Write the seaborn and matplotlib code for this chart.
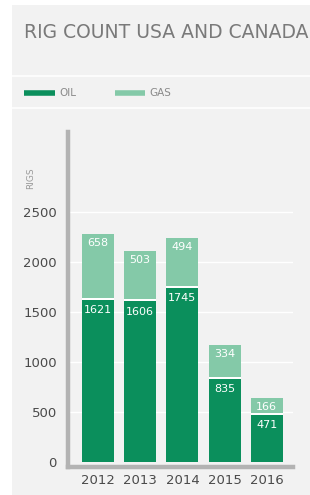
import numpy as np
import pandas as pd
import seaborn as sns
import matplotlib.pyplot as plt
from matplotlib.patches import Rectangle
from matplotlib.lines import Line2D

# data
years = ['2012', '2013', '2014', '2015', '2016']
oil = [1621, 1606, 1745, 835, 471]
gas = [658, 503, 494, 334, 166]
yticks = [0, 500, 1000, 1500, 2000, 2500]

oil_color = '#0b8f5c'
gas_color = '#84c9a8'
panel = '#f2f2f2'

df = pd.DataFrame({'Year': years, 'Oil': oil, 'Gas': gas})
df['Total'] = df['Oil'] + df['Gas']
df['Gap'] = df['Oil'] + 20

sns.set_theme(style='white')
plt.rcParams['font.family'] = ['DejaVu Sans']

fig = plt.figure(figsize=(3.1, 4.95), dpi=100)
fig.patch.set_facecolor('white')

# light gray panel behind everything
W, H = 310, 495
fig.add_artist(Rectangle((12 / W, 0), 1, 1 - 5 / H, transform=fig.transFigure,
                         facecolor=panel, edgecolor='none', zorder=0))
for yy in (76, 108):
    fig.add_artist(Line2D([12 / W, 1], [1 - yy / H, 1 - yy / H], transform=fig.transFigure,
                          color='white', lw=1.2, zorder=1))

# title (runs off the right edge like the original)
fig.text(24 / W, 1 - 33 / H, 'RIG COUNT USA AND CANADA', fontsize=13.5, color='#7a7a7a',
         va='center', ha='left', zorder=2)

# legend
for x0, x1, col, lab in [(24, 55, oil_color, 'OIL'), (115, 145, gas_color, 'GAS')]:
    fig.add_artist(Line2D([x0 / W, x1 / W], [1 - 93 / H, 1 - 93 / H], transform=fig.transFigure,
                          color=col, lw=4, solid_capstyle='butt', zorder=2))
    fig.text((x1 + 4) / W, 1 - 93 / H, lab, fontsize=7.5, color='#8a8a8a', va='center', ha='left')

ax = fig.add_axes([68 / W, 1 - 467 / H, (293 - 68) / W, (467 - 132) / H])
ax.set_facecolor(panel)

sns.barplot(data=df, x='Year', y='Total', color=gas_color, width=0.76, saturation=1,
            linewidth=0, ax=ax, zorder=2)
sns.barplot(data=df, x='Year', y='Gap', color='white', width=0.76, saturation=1,
            linewidth=0, ax=ax, zorder=2)
sns.barplot(data=df, x='Year', y='Oil', color=oil_color, width=0.76, saturation=1,
            linewidth=0, ax=ax, zorder=2)

# value labels inside each segment
for i, (o, t) in enumerate(zip(df['Oil'], df['Total'])):
    ax.annotate(str(o), (i, o), xytext=(0, -4), textcoords='offset points',
                ha='center', va='top', color='white', fontsize=8, zorder=3)
    ax.annotate(str(t - o), (i, t), xytext=(0, -3), textcoords='offset points',
                ha='center', va='top', color='white', fontsize=8, zorder=3)

ax.set_ylim(-50, 3300)
ax.set_xlim(-0.71, 4.62)
ax.set_yticks(yticks)
ax.set_yticklabels([str(v) for v in yticks])
ax.yaxis.grid(True, color='white', lw=1, zorder=1)
ax.set_axisbelow(True)
ax.get_ygridlines()[0].set_visible(False)
ax.tick_params(axis='both', length=0, labelsize=9.5, colors='#4a4a4a')
ax.tick_params(axis='y', pad=8)
ax.tick_params(axis='x', pad=5)
ax.set_xlabel('')
ax.set_ylabel('')

for side in ('top', 'right'):
    ax.spines[side].set_visible(False)
for side in ('left', 'bottom'):
    ax.spines[side].set_color('#b3b3b3')
    ax.spines[side].set_linewidth(3.2)
    ax.spines[side].set_zorder(4)

fig.text(31 / W, 1 - 178 / H, 'RIGS', rotation=90, fontsize=6.5, color='#9a9a9a',
         ha='center', va='center')

fig.savefig('out.png', dpi=100, facecolor=fig.get_facecolor())
